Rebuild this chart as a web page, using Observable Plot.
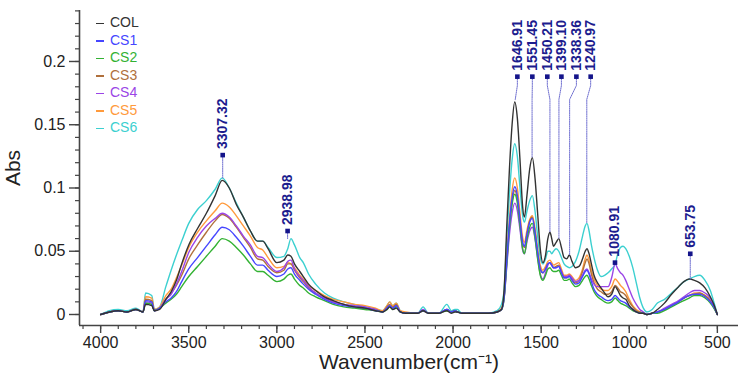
<!DOCTYPE html>
<html><head><meta charset="utf-8">
<script src="https://cdn.jsdelivr.net/npm/d3@7"></script>
<script src="https://cdn.jsdelivr.net/npm/@observablehq/plot@0.6"></script>
<style>
body{margin:0;background:#fff;}
#wrap{position:relative;width:744px;height:381px;font-family:"Liberation Sans",Arial,sans-serif;}
#wrap svg{position:absolute;left:0;top:0;}
#legend{position:absolute;left:96px;top:14px;font-size:14px;line-height:17.5px;z-index:2;}
#legend div{white-space:nowrap;}
#legend span.k{display:inline-block;width:8px;height:1.5px;vertical-align:middle;margin-right:6px;}
</style></head><body><div id="wrap"><div id="legend"></div></div>
<script>
// ---------- data ----------
const wavenumbers = [
  4000, 3950, 3900, 3850, 3800, 3760, 3745, 3710, 3695, 3665,
  3630, 3600, 3570, 3540, 3500, 3450, 3400, 3350, 3310, 3270,
  3230, 3190, 3150, 3110, 3080, 3050, 3000, 2960, 2938, 2920,
  2900, 2870, 2850, 2820, 2780, 2730, 2680, 2620, 2560, 2500,
  2440, 2400, 2375, 2360, 2342, 2322, 2300, 2270, 2200, 2170,
  2140, 2080, 2035, 2010, 1990, 1975, 1950, 1880, 1800, 1750,
  1725, 1710, 1695, 1680, 1665, 1650, 1635, 1620, 1605, 1595,
  1580, 1565, 1550, 1535, 1520, 1505, 1490, 1475, 1462, 1450,
  1440, 1430, 1415, 1400, 1385, 1370, 1355, 1340, 1325, 1305,
  1285, 1265, 1250, 1240, 1228, 1215, 1200, 1180, 1160, 1140,
  1120, 1100, 1080, 1065, 1050, 1035, 1020, 1000, 980, 960,
  940, 920, 900, 870, 840, 800, 760, 720, 690, 660,
  630, 600, 570, 540, 520, 500
];
const COL = [
  0, 0.002, 0.003, 0.002, 0.004, 0.002, 0.008, 0.007, 0.003, 0.004,
  0.012, 0.018, 0.027, 0.040, 0.055, 0.068, 0.080, 0.094, 0.106, 0.100,
  0.087, 0.077, 0.066, 0.058, 0.058, 0.052, 0.041, 0.043, 0.047, 0.046,
  0.040, 0.034, 0.030, 0.024, 0.019, 0.014, 0.011, 0.008, 0.006, 0.005,
  0.003, 0.002, 0.004, 0.006, 0.004, 0.005, 0.002, 0.001, 0.001, 0.003,
  0.001, 0.001, 0.003, 0.001, 0.002, 0.002, 0.001, 0.001, 0.001, 0.002,
  0.004, 0.020, 0.070, 0.115, 0.150, 0.168, 0.155, 0.122, 0.085, 0.077,
  0.095, 0.115, 0.124, 0.108, 0.080, 0.052, 0.041, 0.047, 0.060, 0.065,
  0.060, 0.054, 0.057, 0.060, 0.053, 0.045, 0.044, 0.047, 0.042, 0.037,
  0.038, 0.044, 0.050, 0.052, 0.048, 0.040, 0.031, 0.025, 0.021, 0.017,
  0.014, 0.016, 0.022, 0.019, 0.015, 0.013, 0.012, 0.007, 0.004, 0.002,
  0.001, 0.001, 0.000, 0.001, 0.004, 0.009, 0.016, 0.022, 0.026, 0.028,
  0.027, 0.025, 0.021, 0.014, 0.008, 0.0
];
const CS1 = [
  0, 0.002, 0.003, 0.002, 0.004, 0.002, 0.011, 0.010, 0.003, 0.005,
  0.010, 0.013, 0.018, 0.026, 0.036, 0.045, 0.054, 0.063, 0.069, 0.067,
  0.061, 0.054, 0.046, 0.039, 0.039, 0.035, 0.030, 0.032, 0.036, 0.037,
  0.032, 0.027, 0.024, 0.020, 0.016, 0.012, 0.009, 0.007, 0.006, 0.005,
  0.003, 0.002, 0.005, 0.007, 0.005, 0.007, 0.002, 0.001, 0.001, 0.003,
  0.001, 0.001, 0.004, 0.002, 0.003, 0.002, 0.001, 0.001, 0.001, 0.002,
  0.004, 0.014, 0.043, 0.072, 0.092, 0.101, 0.094, 0.075, 0.057, 0.054,
  0.064, 0.073, 0.076, 0.065, 0.049, 0.036, 0.033, 0.036, 0.040, 0.041,
  0.039, 0.037, 0.037, 0.038, 0.033, 0.029, 0.029, 0.030, 0.027, 0.024,
  0.025, 0.030, 0.034, 0.035, 0.032, 0.026, 0.020, 0.016, 0.014, 0.012,
  0.011, 0.012, 0.015, 0.013, 0.011, 0.010, 0.009, 0.006, 0.004, 0.002,
  0.001, 0.001, 0.000, 0.001, 0.002, 0.004, 0.007, 0.010, 0.013, 0.015,
  0.016, 0.016, 0.014, 0.010, 0.006, 0.0
];
const CS2 = [
  0, 0.002, 0.003, 0.002, 0.004, 0.002, 0.009, 0.008, 0.003, 0.005,
  0.009, 0.012, 0.016, 0.022, 0.030, 0.038, 0.046, 0.054, 0.060, 0.058,
  0.053, 0.047, 0.040, 0.034, 0.034, 0.031, 0.026, 0.028, 0.031, 0.032,
  0.028, 0.023, 0.021, 0.017, 0.014, 0.011, 0.008, 0.006, 0.005, 0.004,
  0.003, 0.002, 0.004, 0.006, 0.004, 0.006, 0.002, 0.001, 0.001, 0.003,
  0.001, 0.001, 0.003, 0.002, 0.003, 0.002, 0.001, 0.001, 0.001, 0.002,
  0.004, 0.013, 0.040, 0.068, 0.087, 0.095, 0.088, 0.070, 0.052, 0.048,
  0.060, 0.069, 0.072, 0.061, 0.044, 0.031, 0.027, 0.031, 0.036, 0.037,
  0.035, 0.034, 0.034, 0.035, 0.031, 0.027, 0.027, 0.028, 0.025, 0.022,
  0.023, 0.027, 0.030, 0.031, 0.028, 0.023, 0.018, 0.014, 0.012, 0.010,
  0.009, 0.010, 0.013, 0.011, 0.009, 0.008, 0.007, 0.005, 0.003, 0.002,
  0.001, 0.001, 0.000, 0.001, 0.001, 0.003, 0.006, 0.009, 0.011, 0.013,
  0.015, 0.015, 0.013, 0.009, 0.005, 0.0
];
const CS3 = [
  0, 0.002, 0.003, 0.002, 0.004, 0.002, 0.012, 0.011, 0.003, 0.005,
  0.012, 0.017, 0.023, 0.031, 0.044, 0.055, 0.065, 0.074, 0.079, 0.076,
  0.069, 0.061, 0.053, 0.044, 0.043, 0.038, 0.033, 0.035, 0.040, 0.040,
  0.035, 0.029, 0.026, 0.021, 0.017, 0.013, 0.010, 0.008, 0.006, 0.005,
  0.004, 0.002, 0.006, 0.008, 0.006, 0.008, 0.002, 0.001, 0.001, 0.003,
  0.001, 0.001, 0.004, 0.002, 0.003, 0.002, 0.001, 0.001, 0.001, 0.002,
  0.004, 0.014, 0.042, 0.070, 0.089, 0.098, 0.091, 0.073, 0.056, 0.053,
  0.064, 0.074, 0.077, 0.066, 0.049, 0.036, 0.033, 0.036, 0.040, 0.041,
  0.039, 0.037, 0.038, 0.039, 0.034, 0.029, 0.029, 0.031, 0.028, 0.025,
  0.027, 0.034, 0.041, 0.044, 0.040, 0.032, 0.025, 0.020, 0.018, 0.016,
  0.016, 0.018, 0.023, 0.021, 0.018, 0.017, 0.015, 0.010, 0.006, 0.003,
  0.002, 0.001, 0.000, 0.001, 0.002, 0.004, 0.007, 0.010, 0.013, 0.015,
  0.016, 0.017, 0.015, 0.011, 0.006, 0.0
];
const CS4 = [
  0, 0.002, 0.003, 0.002, 0.004, 0.002, 0.010, 0.009, 0.003, 0.005,
  0.012, 0.016, 0.024, 0.034, 0.049, 0.061, 0.070, 0.076, 0.080, 0.077,
  0.070, 0.062, 0.055, 0.046, 0.045, 0.040, 0.034, 0.037, 0.042, 0.043,
  0.036, 0.030, 0.027, 0.022, 0.017, 0.013, 0.010, 0.008, 0.007, 0.006,
  0.004, 0.002, 0.005, 0.007, 0.005, 0.007, 0.002, 0.001, 0.001, 0.004,
  0.001, 0.001, 0.004, 0.002, 0.003, 0.002, 0.001, 0.001, 0.001, 0.002,
  0.004, 0.013, 0.038, 0.063, 0.080, 0.088, 0.082, 0.067, 0.051, 0.048,
  0.058, 0.066, 0.069, 0.060, 0.045, 0.032, 0.028, 0.033, 0.039, 0.041,
  0.039, 0.037, 0.037, 0.038, 0.034, 0.030, 0.030, 0.031, 0.029, 0.026,
  0.027, 0.031, 0.035, 0.036, 0.033, 0.028, 0.024, 0.022, 0.022, 0.022,
  0.022, 0.029, 0.040, 0.036, 0.033, 0.031, 0.027, 0.020, 0.013, 0.008,
  0.004, 0.002, 0.000, 0.001, 0.002, 0.005, 0.008, 0.011, 0.014, 0.017,
  0.019, 0.019, 0.017, 0.013, 0.007, 0.0
];
const CS5 = [
  0, 0.002, 0.003, 0.002, 0.004, 0.002, 0.014, 0.013, 0.004, 0.006,
  0.015, 0.020, 0.029, 0.039, 0.053, 0.065, 0.074, 0.082, 0.088, 0.085,
  0.078, 0.070, 0.062, 0.053, 0.051, 0.045, 0.037, 0.038, 0.041, 0.040,
  0.037, 0.031, 0.028, 0.023, 0.019, 0.015, 0.012, 0.010, 0.008, 0.007,
  0.005, 0.003, 0.007, 0.010, 0.007, 0.009, 0.003, 0.002, 0.001, 0.003,
  0.001, 0.001, 0.004, 0.002, 0.003, 0.002, 0.001, 0.001, 0.001, 0.002,
  0.005, 0.015, 0.045, 0.076, 0.098, 0.108, 0.100, 0.080, 0.061, 0.057,
  0.067, 0.075, 0.078, 0.068, 0.052, 0.039, 0.035, 0.038, 0.042, 0.043,
  0.041, 0.039, 0.040, 0.041, 0.036, 0.031, 0.031, 0.032, 0.030, 0.027,
  0.029, 0.036, 0.044, 0.047, 0.043, 0.035, 0.028, 0.023, 0.020, 0.019,
  0.019, 0.022, 0.028, 0.026, 0.023, 0.021, 0.018, 0.012, 0.007, 0.004,
  0.002, 0.001, 0.000, 0.001, 0.002, 0.004, 0.007, 0.010, 0.013, 0.015,
  0.017, 0.017, 0.015, 0.011, 0.006, 0.0
];
const CS6 = [
  0, 0.003, 0.004, 0.003, 0.005, 0.002, 0.017, 0.015, 0.004, 0.006,
  0.022, 0.035, 0.047, 0.058, 0.072, 0.083, 0.090, 0.099, 0.108, 0.100,
  0.088, 0.077, 0.066, 0.058, 0.058, 0.053, 0.045, 0.046, 0.052, 0.060,
  0.055, 0.045, 0.041, 0.032, 0.024, 0.017, 0.013, 0.010, 0.008, 0.006,
  0.004, 0.003, 0.007, 0.010, 0.007, 0.009, 0.003, 0.001, 0.001, 0.006,
  0.001, 0.001, 0.008, 0.003, 0.004, 0.004, 0.001, 0.001, 0.001, 0.003,
  0.008, 0.020, 0.060, 0.095, 0.122, 0.135, 0.125, 0.100, 0.078, 0.073,
  0.082, 0.090, 0.094, 0.082, 0.062, 0.045, 0.040, 0.044, 0.050, 0.050,
  0.048, 0.050, 0.052, 0.050, 0.045, 0.040, 0.038, 0.037, 0.038, 0.042,
  0.050, 0.062, 0.070, 0.072, 0.066, 0.055, 0.045, 0.035, 0.030, 0.031,
  0.033, 0.036, 0.040, 0.048, 0.053, 0.054, 0.052, 0.046, 0.037, 0.025,
  0.013, 0.005, 0.002, 0.004, 0.009, 0.012, 0.017, 0.022, 0.026, 0.028,
  0.030, 0.031, 0.027, 0.019, 0.010, 0.0
];
const seriesNames  = ["COL", "CS1", "CS2", "CS3", "CS4", "CS5", "CS6"];
const seriesColors = ["#333333", "#4646ff", "#33b233", "#b0703c", "#9b45e6", "#ff9a3c", "#3cd0d0"];
const drawOrder    = ["CS6", "CS5", "CS3", "CS4", "CS2", "CS1", "COL"];

// peak annotations
const peakLabels  = ["3307.32", "2938.98", "1646.91", "1551.45", "1450.21", "1399.10", "1338.36", "1240.97", "1080.91", "653.75"];
const peakWn      = [3307.32, 2938.98, 1646.91, 1551.45, 1450.21, 1399.10, 1338.36, 1240.97, 1080.91, 653.75];
const peakAbs     = [0.108, 0.060, 0.169, 0.124, 0.065, 0.060, 0.047, 0.072, 0.040, 0.028];
const markerWn    = [3307.32, 2938.98, 1635, 1550, 1465, 1385, 1300, 1219, 1080.91, 653.75];
const markerAbs   = [0.126, 0.066, 0.188, 0.188, 0.188, 0.188, 0.188, 0.188, 0.041, 0.048];

// axes
const xTicks = [4000, 3500, 3000, 2500, 2000, 1500, 1000, 500];
const yTicks = [0, 0.05, 0.1, 0.15, 0.2];
const xDomain = [4120, 380];
const yDomain = [-0.0087, 0.2403];

// ---------- build tables ----------
const seriesData = {COL, CS1, CS2, CS3, CS4, CS5, CS6};
const rows = [];
for (const s of drawOrder) {
  seriesData[s].forEach((v, i) => rows.push({series: s, wn: wavenumbers[i], abs: v}));
}
const markers = peakLabels.map((t, i) => ({label: t, wn: markerWn[i], abs: markerAbs[i]}));
const leaders = [];
peakLabels.forEach((t, i) => {
  leaders.push({id: t, wn: markerWn[i], abs: markerAbs[i]});
  if (markerWn[i] !== peakWn[i]) {
    leaders.push({id: t, wn: markerWn[i], abs: markerAbs[i] - 0.007});
    leaders.push({id: t, wn: peakWn[i], abs: markerAbs[i] - 0.018});
  }
  leaders.push({id: t, wn: peakWn[i], abs: peakAbs[i]});
});
const xMinor = d3.range(500, 4101, 100);
const yMinor = d3.range(0, 0.2405, 0.01).map(v => +v.toFixed(2));

const font = '"Liberation Sans", Arial, sans-serif';
const chart = Plot.plot({
  width: 744,
  height: 381,
  marginLeft: 79,
  marginRight: 6,
  marginTop: 10,
  marginBottom: 56,
  style: {fontFamily: font, background: "#fff", overflow: "visible"},
  x: {domain: xDomain, label: null},
  y: {domain: yDomain, label: null},
  color: {domain: seriesNames, range: seriesColors},
  marks: [
    // minor ticks
    Plot.axisX({ticks: xMinor, tickSize: 4, tickFormat: () => "", stroke: "#444", strokeWidth: 1.2}),
    Plot.axisY({ticks: yMinor, tickSize: 4, tickFormat: () => "", stroke: "#444", strokeWidth: 1.2}),
    // major ticks
    Plot.axisX({ticks: xTicks, tickSize: 8, tickPadding: 3, fontSize: 16, fill: "#222", stroke: "#444", strokeWidth: 1.4, tickFormat: d => String(d)}),
    Plot.axisY({ticks: yTicks, tickSize: 10, tickPadding: 4, fontSize: 16, fill: "#222", stroke: "#444", strokeWidth: 1.4, tickFormat: d => String(d)}),
    // axis lines
    Plot.ruleY([yDomain[0]], {stroke: "#444", strokeWidth: 1.6}),
    Plot.ruleX([xDomain[0]], {stroke: "#444", strokeWidth: 1.6}),
    // axis titles
    Plot.text(["Abs"], {frameAnchor: "left", rotate: -90, dx: -66, textAnchor: "middle", lineAnchor: "middle", fontSize: 21, fill: "#222"}),
    Plot.text(["Wavenumber(cm\u207B\u00B9)"], {frameAnchor: "bottom", dy: 37, textAnchor: "middle", lineAnchor: "middle", fontSize: 21, fill: "#222"}),
    // spectra
    Plot.line(rows, {x: "wn", y: "abs", z: "series", stroke: "series", strokeWidth: 1.4, curve: "monotone-x"}),
    // leader lines
    Plot.line(leaders, {x: "wn", y: "abs", z: "id", stroke: "#6f6fd0", strokeWidth: 1, strokeDasharray: "1.2,1", curve: "linear"}),
    Plot.dot(markers, {x: "wn", y: "abs", symbol: "square", r: 2.6, fill: "#14148a", stroke: "none"}),
    Plot.text(markers, {x: "wn", y: "abs", text: "label", rotate: -90, textAnchor: "start", dy: -6, fontSize: 14, fontWeight: "bold", fill: "#1c1c8e"})
  ]
});
const wrap = document.getElementById("wrap");
wrap.insertBefore(chart, wrap.firstChild);

const legend = document.getElementById("legend");
seriesNames.forEach((name, i) => {
  const row = document.createElement("div");
  row.style.color = seriesColors[i];
  const k = document.createElement("span");
  k.className = "k";
  k.style.background = seriesColors[i];
  row.appendChild(k);
  row.appendChild(document.createTextNode(name));
  legend.appendChild(row);
});
</script>
</body></html>
